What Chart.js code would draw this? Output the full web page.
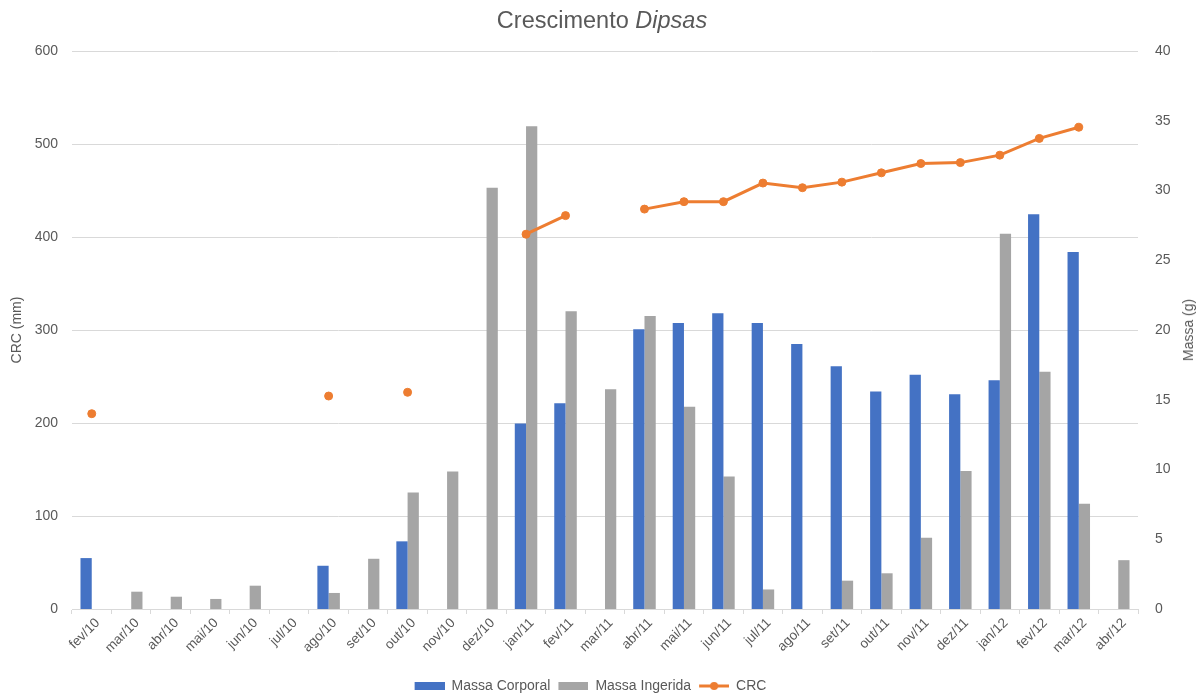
<!DOCTYPE html>
<html lang="pt">
<head>
<meta charset="utf-8">
<title>Crescimento Dipsas</title>
<script src="https://cdn.jsdelivr.net/npm/chart.js@4/dist/chart.umd.min.js"></script>
<style>
  html, body { margin: 0; padding: 0; background: #ffffff; }
  #wrap { position: relative; width: 1203px; height: 694px; }
  #titulo {
    position: absolute; left: 0; top: 6px; width: 1204px; text-align: center;
    font-family: "Liberation Sans", Arial, sans-serif; font-size: 23.5px; line-height: 28px;
    color: #595959;
  }
  #eixoDireito {
    position: absolute; left: 1188px; top: 330px;
    transform: translate(-50%, -50%) rotate(-90deg);
    font-family: "Liberation Sans", Arial, sans-serif; font-size: 14px; color: #595959;
    white-space: nowrap;
  }
  canvas { position: absolute; left: 0; top: 0; }
</style>
</head>
<body>
<div id="wrap">
  <canvas id="grafico" width="1203" height="694"></canvas>
  <div id="titulo">Crescimento <i>Dipsas</i></div>
  <div id="eixoDireito">Massa (g)</div>
</div>
<script>
// Meses amostrados
const meses = ['fev/10','mar/10','abr/10','mai/10','jun/10','jul/10','ago/10','set/10','out/10','nov/10','dez/10',
  'jan/11','fev/11','mar/11','abr/11','mai/11','jun/11','jul/11','ago/11','set/11','out/11','nov/11','dez/11',
  'jan/12','fev/12','mar/12','abr/12'];

// Massa corporal (g)
const massaCorporal = [3.65, null, null, null, null, null, 3.1, null, 4.85, null, null,
  13.3, 14.75, null, 20.05, 20.5, 21.2, 20.5, 19.0, 17.4, 15.6, 16.8, 15.4,
  16.4, 28.3, 25.6, null];

// Massa ingerida (g)
const massaIngerida = [null, 1.24, 0.88, 0.72, 1.67, null, 1.15, 3.6, 8.36, 9.85, 30.2,
  34.6, 21.35, 15.75, 21.0, 14.5, 9.5, 1.4, null, 2.03, 2.56, 5.1, 9.9,
  26.9, 17.0, 7.55, 3.5];

// Comprimento rostro-cloacal (mm)
const crc = [210, null, null, null, null, null, 229, null, 233, null, null,
  403, 423, null, 430, 438, 438, 458, 453, 459, 469, 479, 480,
  488, 506, 518, null];

const AZUL = '#4472C4', CINZA = '#A5A5A5', LARANJA = '#ED7D31', TEXTO = '#595959', GRADE = '#D9D9D9';
const FONTE = "'Liberation Sans', Arial, sans-serif";

// Amostras da legenda
function amostraBarra(cor) {
  const c = document.createElement('canvas');
  c.width = 34; c.height = 8;
  const g = c.getContext('2d');
  g.fillStyle = cor;
  g.fillRect(4, 0, 30, 8);
  return c;
}
function amostraLinha(cor) {
  const c = document.createElement('canvas');
  c.width = 34; c.height = 10;
  const g = c.getContext('2d');
  g.strokeStyle = cor; g.lineWidth = 3;
  g.beginPath(); g.moveTo(4, 5); g.lineTo(34, 5); g.stroke();
  g.fillStyle = cor;
  g.beginPath(); g.arc(19, 5, 4, 0, Math.PI * 2); g.fill();
  return c;
}
const estilos = [amostraBarra(AZUL), amostraBarra(CINZA), amostraLinha(LARANJA)];

// Desloca a legenda: um pouco para a esquerda e para baixo
const ajusteLegenda = {
  id: 'ajusteLegenda',
  afterLayout(chart) {
    const lg = chart.legend;
    if (!lg) return;
    lg.right -= 26;
    lg.width -= 26;
    lg.top += 9;
    lg.bottom += 9;
  }
};

new Chart(document.getElementById('grafico'), {
  data: {
    labels: meses,
    datasets: [
      { type: 'bar', label: 'Massa Corporal', data: massaCorporal, backgroundColor: AZUL,
        yAxisID: 'y1', order: 2, categoryPercentage: 0.57, barPercentage: 1.0 },
      { type: 'bar', label: 'Massa Ingerida', data: massaIngerida, backgroundColor: CINZA,
        yAxisID: 'y1', order: 3, categoryPercentage: 0.57, barPercentage: 1.0 },
      { type: 'line', label: 'CRC', data: crc, borderColor: LARANJA, backgroundColor: LARANJA,
        borderWidth: 3, pointRadius: 4, pointBackgroundColor: LARANJA, pointBorderColor: LARANJA,
        pointBorderWidth: 1, spanGaps: false, yAxisID: 'y', order: 1, tension: 0 }
    ]
  },
  plugins: [ajusteLegenda],
  options: {
    responsive: false,
    animation: false,
    layout: { padding: { top: 51, left: 0, right: 0, bottom: 0 } },
    plugins: {
      tooltip: { enabled: false },
      title: { display: false },
      legend: {
        position: 'bottom',
        labels: {
          usePointStyle: true,
          pointStyleWidth: 34,
          padding: 4,
          color: TEXTO,
          font: { family: FONTE, size: 14 },
          generateLabels(chart) {
            return chart.data.datasets.map((ds, i) => ({
              text: ds.label,
              fillStyle: ds.backgroundColor,
              strokeStyle: ds.backgroundColor,
              lineWidth: 0,
              pointStyle: estilos[i],
              hidden: !chart.isDatasetVisible(i),
              datasetIndex: i,
              fontColor: TEXTO
            }));
          }
        }
      }
    },
    scales: {
      x: {
        offset: true,
        grid: { display: true, drawOnChartArea: false, drawTicks: true, tickLength: 5, color: GRADE, offset: true },
        border: { display: true, color: GRADE, width: 1 },
        ticks: { color: TEXTO, font: { family: FONTE, size: 13.5 }, minRotation: 45, maxRotation: 45, autoSkip: false,
                 padding: 1, labelOffset: 6 },
        afterFit(s) { s.height = 57; }
      },
      y: {
        position: 'left',
        min: 0, max: 600,
        ticks: { stepSize: 100, color: TEXTO, font: { family: FONTE, size: 14 }, padding: 14 },
        grid: { color: GRADE, drawTicks: false },
        border: { display: false },
        title: { display: true, text: 'CRC (mm)', color: TEXTO, font: { family: FONTE, size: 14 }, padding: { top: 9, bottom: 0 } },
        afterFit(s) { s.width = 72; }
      },
      y1: {
        position: 'right',
        min: 0, max: 40,
        ticks: { stepSize: 5, color: TEXTO, font: { family: FONTE, size: 14 }, padding: 17 },
        grid: { display: false, drawTicks: false },
        border: { display: false },
        afterFit(s) { s.width = 65; }
      }
    }
  }
});
</script>
</body>
</html>
